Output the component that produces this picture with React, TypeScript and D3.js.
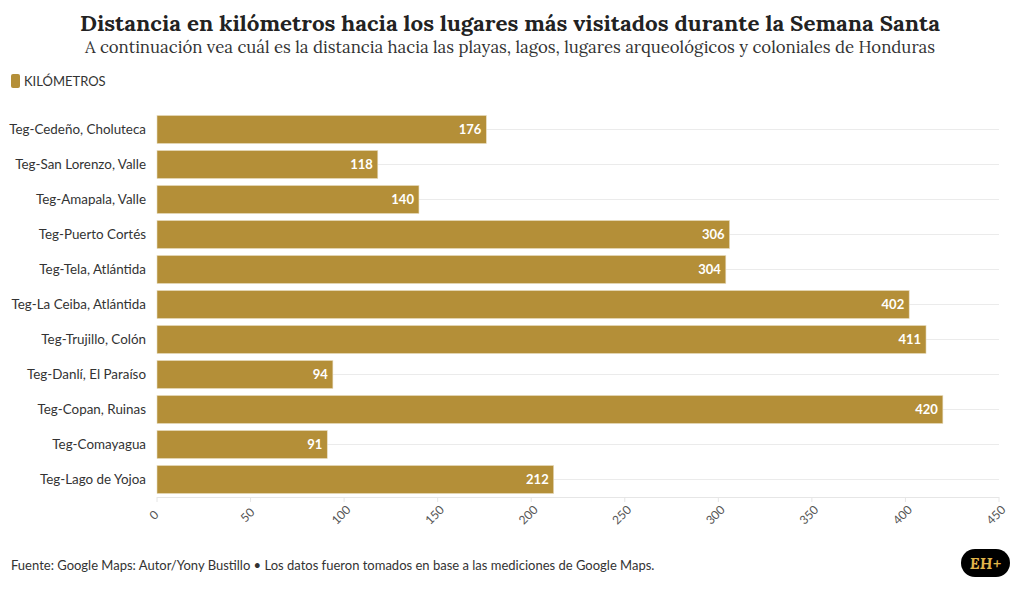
import React from "react";
import * as d3 from "d3";

const categories = [
  "Teg-Cedeño, Choluteca",
  "Teg-San Lorenzo, Valle",
  "Teg-Amapala, Valle",
  "Teg-Puerto Cortés",
  "Teg-Tela, Atlántida",
  "Teg-La Ceiba, Atlántida",
  "Teg-Trujillo, Colón",
  "Teg-Danlí, El Paraíso",
  "Teg-Copan, Ruinas",
  "Teg-Comayagua",
  "Teg-Lago de Yojoa",
];
const values = [176, 118, 140, 306, 304, 402, 411, 94, 420, 91, 212];
const xTicks = [0, 50, 100, 150, 200, 250, 300, 350, 400, 450];

const W = 1020;
const H = 591;
const BAR = "#b48f38";
const SANS = "'Source Sans Pro', Lato, 'Noto Sans', sans-serif";
const SERIF = "Lora, 'DejaVu Serif', 'Liberation Serif', serif";

export default function App() {
  const x = d3.scaleLinear().domain([0, 450]).range([157, 999]);
  const y = d3.scaleBand<string>().domain(categories).range([112, 497]).paddingInner(0.2).paddingOuter(0.1);
  const bw = y.bandwidth();

  return (
    <svg width={W} height={H} style={{ position: "absolute", left: 0, top: 0, background: "#fff" }}>
      <text x={510} y={31} textAnchor="middle" fontFamily={SERIF} fontWeight="bold" fontSize={22} fill="#222" textLength={860} lengthAdjust="spacingAndGlyphs">
        Distancia en kilómetros hacia los lugares más visitados durante la Semana Santa
      </text>
      <text x={510} y={53} textAnchor="middle" fontFamily={SERIF} fontSize={16.5} fill="#333" textLength={850} lengthAdjust="spacingAndGlyphs">
        A continuación vea cuál es la distancia hacia las playas, lagos, lugares arqueológicos y coloniales de Honduras
      </text>

      <rect x={11} y={74} width={9} height={14} rx={2} fill={BAR} />
      <text x={24} y={86} fontFamily={SANS} fontSize={13} fill="#333">KILÓMETROS</text>

      {categories.map((c) => (
        <line key={"g" + c} x1={157} x2={999} y1={y(c)! + bw / 2} y2={y(c)! + bw / 2} stroke="#ebebeb" strokeWidth={1} />
      ))}
      <line x1={157} x2={999} y1={497.5} y2={497.5} stroke="#e6e6e6" />

      {categories.map((c) => (
        <text key={"l" + c} x={146} y={y(c)! + bw / 2} dy="0.35em" textAnchor="end" fontFamily={SANS} fontSize={13.4} fill="#333">
          {c}
        </text>
      ))}

      {categories.map((c, i) => (
        <g key={"b" + c}>
          <rect x={x(0)} y={y(c)!} width={x(values[i]) - x(0)} height={bw} fill={BAR} stroke="#e8dcc0" strokeWidth={0.6} />
          <text x={x(values[i]) - 5} y={y(c)! + bw / 2} dy="0.35em" textAnchor="end" fontFamily={SANS} fontWeight="bold" fontSize={13} fill="#fff">
            {values[i]}
          </text>
        </g>
      ))}

      {xTicks.map((t) => (
        <g key={"t" + t} transform={`translate(${x(t)},497)`}>
          <line y1={0} y2={5} stroke="#e6e6e6" />
          <text transform="translate(-3,18) rotate(-45)" textAnchor="middle" dy="0.35em" fontFamily={SANS} fontSize={12} fill="#555">
            {t}
          </text>
        </g>
      ))}

      <text x={11} y={570} fontFamily={SANS} fontSize={13} fill="#333">
        Fuente: Google Maps: Autor/Yony Bustillo • Los datos fueron tomados en base a las mediciones de Google Maps.
      </text>

      <rect x={961} y={549} width={49} height={28} rx={14} fill="#000" />
      <text x={985.5} y={569} textAnchor="middle" fontFamily={SERIF} fontStyle="italic" fontWeight="bold" fontSize={16} fill="#e0b54a">
        EH+
      </text>
    </svg>
  );
}
